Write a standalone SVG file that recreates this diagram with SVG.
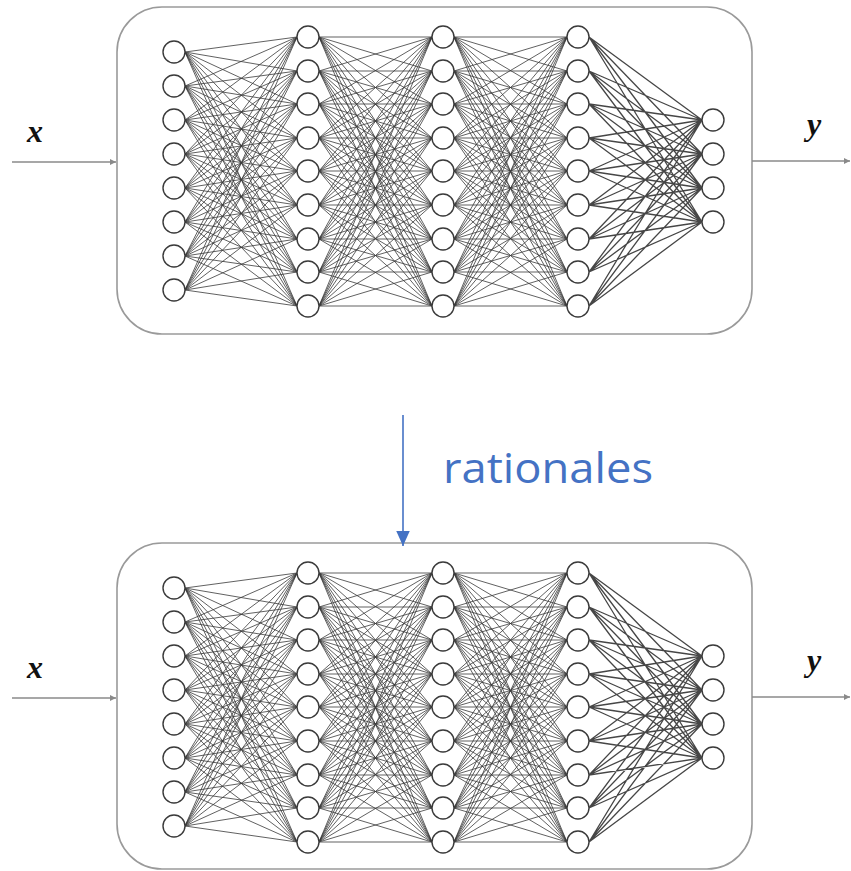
<svg xmlns="http://www.w3.org/2000/svg" xmlns:xlink="http://www.w3.org/1999/xlink" width="851" height="871" viewBox="0 0 851 871">
<style>
.box{fill:none;stroke:#9a9a9a;stroke-width:1.6}
.w{fill:none;stroke:#3a3a3a;stroke-width:1;stroke-opacity:0.8}
.w2{fill:none;stroke:#262626;stroke-width:1.3;stroke-opacity:0.85}
.n circle{fill:#fff;stroke:#3a3a3a;stroke-width:1.4}
.io{fill:none;stroke:#8a8a8a;stroke-width:1.4}
.lbl{font-family:"Liberation Serif","DejaVu Serif",serif;font-style:italic;font-weight:bold;font-size:32px;fill:#111;text-anchor:middle}
.rat{font-family:"Open Sans","Noto Sans",sans-serif;font-size:42px;fill:#4472C4}
</style>
<defs>
<marker id="ag" viewBox="0 0 10 10" refX="10" refY="5" markerWidth="6" markerHeight="6" markerUnits="userSpaceOnUse" orient="auto"><path d="M0 0L10 5L0 10z" fill="#8a8a8a"/></marker>
<marker id="ab" viewBox="0 0 10 10" refX="10" refY="5" markerWidth="15" markerHeight="15" markerUnits="userSpaceOnUse" orient="auto"><path d="M0 0.5L10 5L0 9.5z" fill="#4472C4"/></marker>
</defs>
<g id="boxes">
<rect id="box-top" class="box" x="117" y="7" width="635" height="327" rx="45"/>
<rect id="box-bottom" class="box" x="117" y="543" width="635" height="326" rx="45"/>
</g>
<g id="connectors">
<g id="conn-top">
<path class="w" d="M185 52L297 37M185 52L297 71M185 52L297 104M185 52L297 138M185 52L297 171M185 52L297 205M185 52L297 239M185 52L297 272M185 52L297 306
M185 86L297 37M185 86L297 71M185 86L297 104M185 86L297 138M185 86L297 171M185 86L297 205M185 86L297 239M185 86L297 272M185 86L297 306
M185 120L297 37M185 120L297 71M185 120L297 104M185 120L297 138M185 120L297 171M185 120L297 205M185 120L297 239M185 120L297 272M185 120L297 306
M185 154L297 37M185 154L297 71M185 154L297 104M185 154L297 138M185 154L297 171M185 154L297 205M185 154L297 239M185 154L297 272M185 154L297 306
M185 188L297 37M185 188L297 71M185 188L297 104M185 188L297 138M185 188L297 171M185 188L297 205M185 188L297 239M185 188L297 272M185 188L297 306
M185 222L297 37M185 222L297 71M185 222L297 104M185 222L297 138M185 222L297 171M185 222L297 205M185 222L297 239M185 222L297 272M185 222L297 306
M185 256L297 37M185 256L297 71M185 256L297 104M185 256L297 138M185 256L297 171M185 256L297 205M185 256L297 239M185 256L297 272M185 256L297 306
M185 290L297 37M185 290L297 71M185 290L297 104M185 290L297 138M185 290L297 171M185 290L297 205M185 290L297 239M185 290L297 272M185 290L297 306"/>
<path class="w" d="M319 37L432 37M319 37L432 71M319 37L432 104M319 37L432 138M319 37L432 171M319 37L432 205M319 37L432 239M319 37L432 272M319 37L432 306
M319 71L432 37M319 71L432 71M319 71L432 104M319 71L432 138M319 71L432 171M319 71L432 205M319 71L432 239M319 71L432 272M319 71L432 306
M319 104L432 37M319 104L432 71M319 104L432 104M319 104L432 138M319 104L432 171M319 104L432 205M319 104L432 239M319 104L432 272M319 104L432 306
M319 138L432 37M319 138L432 71M319 138L432 104M319 138L432 138M319 138L432 171M319 138L432 205M319 138L432 239M319 138L432 272M319 138L432 306
M319 171L432 37M319 171L432 71M319 171L432 104M319 171L432 138M319 171L432 171M319 171L432 205M319 171L432 239M319 171L432 272M319 171L432 306
M319 205L432 37M319 205L432 71M319 205L432 104M319 205L432 138M319 205L432 171M319 205L432 205M319 205L432 239M319 205L432 272M319 205L432 306
M319 239L432 37M319 239L432 71M319 239L432 104M319 239L432 138M319 239L432 171M319 239L432 205M319 239L432 239M319 239L432 272M319 239L432 306
M319 272L432 37M319 272L432 71M319 272L432 104M319 272L432 138M319 272L432 171M319 272L432 205M319 272L432 239M319 272L432 272M319 272L432 306
M319 306L432 37M319 306L432 71M319 306L432 104M319 306L432 138M319 306L432 171M319 306L432 205M319 306L432 239M319 306L432 272M319 306L432 306"/>
<path class="w" d="M454 37L567 37M454 37L567 71M454 37L567 104M454 37L567 138M454 37L567 171M454 37L567 205M454 37L567 239M454 37L567 272M454 37L567 306
M454 71L567 37M454 71L567 71M454 71L567 104M454 71L567 138M454 71L567 171M454 71L567 205M454 71L567 239M454 71L567 272M454 71L567 306
M454 104L567 37M454 104L567 71M454 104L567 104M454 104L567 138M454 104L567 171M454 104L567 205M454 104L567 239M454 104L567 272M454 104L567 306
M454 138L567 37M454 138L567 71M454 138L567 104M454 138L567 138M454 138L567 171M454 138L567 205M454 138L567 239M454 138L567 272M454 138L567 306
M454 171L567 37M454 171L567 71M454 171L567 104M454 171L567 138M454 171L567 171M454 171L567 205M454 171L567 239M454 171L567 272M454 171L567 306
M454 205L567 37M454 205L567 71M454 205L567 104M454 205L567 138M454 205L567 171M454 205L567 205M454 205L567 239M454 205L567 272M454 205L567 306
M454 239L567 37M454 239L567 71M454 239L567 104M454 239L567 138M454 239L567 171M454 239L567 205M454 239L567 239M454 239L567 272M454 239L567 306
M454 272L567 37M454 272L567 71M454 272L567 104M454 272L567 138M454 272L567 171M454 272L567 205M454 272L567 239M454 272L567 272M454 272L567 306
M454 306L567 37M454 306L567 71M454 306L567 104M454 306L567 138M454 306L567 171M454 306L567 205M454 306L567 239M454 306L567 272M454 306L567 306"/>
<path class="w2" d="M589 37L702 120M589 37L702 154M589 37L702 188M589 37L702 222
M589 71L702 120M589 71L702 154M589 71L702 188M589 71L702 222
M589 104L702 120M589 104L702 154M589 104L702 188M589 104L702 222
M589 138L702 120M589 138L702 154M589 138L702 188M589 138L702 222
M589 171L702 120M589 171L702 154M589 171L702 188M589 171L702 222
M589 205L702 120M589 205L702 154M589 205L702 188M589 205L702 222
M589 239L702 120M589 239L702 154M589 239L702 188M589 239L702 222
M589 272L702 120M589 272L702 154M589 272L702 188M589 272L702 222
M589 306L702 120M589 306L702 154M589 306L702 188M589 306L702 222"/>
</g>
<use id="conn-bottom" xlink:href="#conn-top" href="#conn-top" transform="translate(0,536)"/>
<path id="arrow-x-top" class="io" d="M12 162L116 162" marker-end="url(#ag)"/>
<path id="arrow-y-top" class="io" d="M752 161L850 161" marker-end="url(#ag)"/>
<path id="arrow-x-bottom" class="io" d="M12 698L116 698" marker-end="url(#ag)"/>
<path id="arrow-y-bottom" class="io" d="M752 697L850 697" marker-end="url(#ag)"/>
<path id="arrow-rationales" d="M403 415L403 546" stroke="#4472C4" stroke-width="1.6" fill="none" marker-end="url(#ab)"/>
</g>
<g id="nodes-top">
<g id="t-l1-1" class="n"><circle cx="174" cy="52" r="11"/></g>
<g id="t-l1-2" class="n"><circle cx="174" cy="86" r="11"/></g>
<g id="t-l1-3" class="n"><circle cx="174" cy="120" r="11"/></g>
<g id="t-l1-4" class="n"><circle cx="174" cy="154" r="11"/></g>
<g id="t-l1-5" class="n"><circle cx="174" cy="188" r="11"/></g>
<g id="t-l1-6" class="n"><circle cx="174" cy="222" r="11"/></g>
<g id="t-l1-7" class="n"><circle cx="174" cy="256" r="11"/></g>
<g id="t-l1-8" class="n"><circle cx="174" cy="290" r="11"/></g>
<g id="t-l2-1" class="n"><circle cx="308" cy="37" r="11"/></g>
<g id="t-l2-2" class="n"><circle cx="308" cy="71" r="11"/></g>
<g id="t-l2-3" class="n"><circle cx="308" cy="104" r="11"/></g>
<g id="t-l2-4" class="n"><circle cx="308" cy="138" r="11"/></g>
<g id="t-l2-5" class="n"><circle cx="308" cy="171" r="11"/></g>
<g id="t-l2-6" class="n"><circle cx="308" cy="205" r="11"/></g>
<g id="t-l2-7" class="n"><circle cx="308" cy="239" r="11"/></g>
<g id="t-l2-8" class="n"><circle cx="308" cy="272" r="11"/></g>
<g id="t-l2-9" class="n"><circle cx="308" cy="306" r="11"/></g>
<g id="t-l3-1" class="n"><circle cx="443" cy="37" r="11"/></g>
<g id="t-l3-2" class="n"><circle cx="443" cy="71" r="11"/></g>
<g id="t-l3-3" class="n"><circle cx="443" cy="104" r="11"/></g>
<g id="t-l3-4" class="n"><circle cx="443" cy="138" r="11"/></g>
<g id="t-l3-5" class="n"><circle cx="443" cy="171" r="11"/></g>
<g id="t-l3-6" class="n"><circle cx="443" cy="205" r="11"/></g>
<g id="t-l3-7" class="n"><circle cx="443" cy="239" r="11"/></g>
<g id="t-l3-8" class="n"><circle cx="443" cy="272" r="11"/></g>
<g id="t-l3-9" class="n"><circle cx="443" cy="306" r="11"/></g>
<g id="t-l4-1" class="n"><circle cx="578" cy="37" r="11"/></g>
<g id="t-l4-2" class="n"><circle cx="578" cy="71" r="11"/></g>
<g id="t-l4-3" class="n"><circle cx="578" cy="104" r="11"/></g>
<g id="t-l4-4" class="n"><circle cx="578" cy="138" r="11"/></g>
<g id="t-l4-5" class="n"><circle cx="578" cy="171" r="11"/></g>
<g id="t-l4-6" class="n"><circle cx="578" cy="205" r="11"/></g>
<g id="t-l4-7" class="n"><circle cx="578" cy="239" r="11"/></g>
<g id="t-l4-8" class="n"><circle cx="578" cy="272" r="11"/></g>
<g id="t-l4-9" class="n"><circle cx="578" cy="306" r="11"/></g>
<g id="t-l5-1" class="n"><circle cx="713" cy="120" r="11"/></g>
<g id="t-l5-2" class="n"><circle cx="713" cy="154" r="11"/></g>
<g id="t-l5-3" class="n"><circle cx="713" cy="188" r="11"/></g>
<g id="t-l5-4" class="n"><circle cx="713" cy="222" r="11"/></g>
</g>
<g id="nodes-bottom">
<g id="b-l1-1" class="n"><circle cx="174" cy="588" r="11"/></g>
<g id="b-l1-2" class="n"><circle cx="174" cy="622" r="11"/></g>
<g id="b-l1-3" class="n"><circle cx="174" cy="656" r="11"/></g>
<g id="b-l1-4" class="n"><circle cx="174" cy="690" r="11"/></g>
<g id="b-l1-5" class="n"><circle cx="174" cy="724" r="11"/></g>
<g id="b-l1-6" class="n"><circle cx="174" cy="758" r="11"/></g>
<g id="b-l1-7" class="n"><circle cx="174" cy="792" r="11"/></g>
<g id="b-l1-8" class="n"><circle cx="174" cy="826" r="11"/></g>
<g id="b-l2-1" class="n"><circle cx="308" cy="573" r="11"/></g>
<g id="b-l2-2" class="n"><circle cx="308" cy="607" r="11"/></g>
<g id="b-l2-3" class="n"><circle cx="308" cy="640" r="11"/></g>
<g id="b-l2-4" class="n"><circle cx="308" cy="674" r="11"/></g>
<g id="b-l2-5" class="n"><circle cx="308" cy="707" r="11"/></g>
<g id="b-l2-6" class="n"><circle cx="308" cy="741" r="11"/></g>
<g id="b-l2-7" class="n"><circle cx="308" cy="775" r="11"/></g>
<g id="b-l2-8" class="n"><circle cx="308" cy="808" r="11"/></g>
<g id="b-l2-9" class="n"><circle cx="308" cy="842" r="11"/></g>
<g id="b-l3-1" class="n"><circle cx="443" cy="573" r="11"/></g>
<g id="b-l3-2" class="n"><circle cx="443" cy="607" r="11"/></g>
<g id="b-l3-3" class="n"><circle cx="443" cy="640" r="11"/></g>
<g id="b-l3-4" class="n"><circle cx="443" cy="674" r="11"/></g>
<g id="b-l3-5" class="n"><circle cx="443" cy="707" r="11"/></g>
<g id="b-l3-6" class="n"><circle cx="443" cy="741" r="11"/></g>
<g id="b-l3-7" class="n"><circle cx="443" cy="775" r="11"/></g>
<g id="b-l3-8" class="n"><circle cx="443" cy="808" r="11"/></g>
<g id="b-l3-9" class="n"><circle cx="443" cy="842" r="11"/></g>
<g id="b-l4-1" class="n"><circle cx="578" cy="573" r="11"/></g>
<g id="b-l4-2" class="n"><circle cx="578" cy="607" r="11"/></g>
<g id="b-l4-3" class="n"><circle cx="578" cy="640" r="11"/></g>
<g id="b-l4-4" class="n"><circle cx="578" cy="674" r="11"/></g>
<g id="b-l4-5" class="n"><circle cx="578" cy="707" r="11"/></g>
<g id="b-l4-6" class="n"><circle cx="578" cy="741" r="11"/></g>
<g id="b-l4-7" class="n"><circle cx="578" cy="775" r="11"/></g>
<g id="b-l4-8" class="n"><circle cx="578" cy="808" r="11"/></g>
<g id="b-l4-9" class="n"><circle cx="578" cy="842" r="11"/></g>
<g id="b-l5-1" class="n"><circle cx="713" cy="656" r="11"/></g>
<g id="b-l5-2" class="n"><circle cx="713" cy="690" r="11"/></g>
<g id="b-l5-3" class="n"><circle cx="713" cy="724" r="11"/></g>
<g id="b-l5-4" class="n"><circle cx="713" cy="758" r="11"/></g>
</g>
<g id="labels">
<text class="lbl" x="35" y="142">x</text>
<text class="lbl" x="814" y="135">y</text>
<text class="lbl" x="35" y="678">x</text>
<text class="lbl" x="814" y="671">y</text>
<text class="rat" x="443" y="483" textLength="210" lengthAdjust="spacingAndGlyphs">rationales</text>
</g>
</svg>
